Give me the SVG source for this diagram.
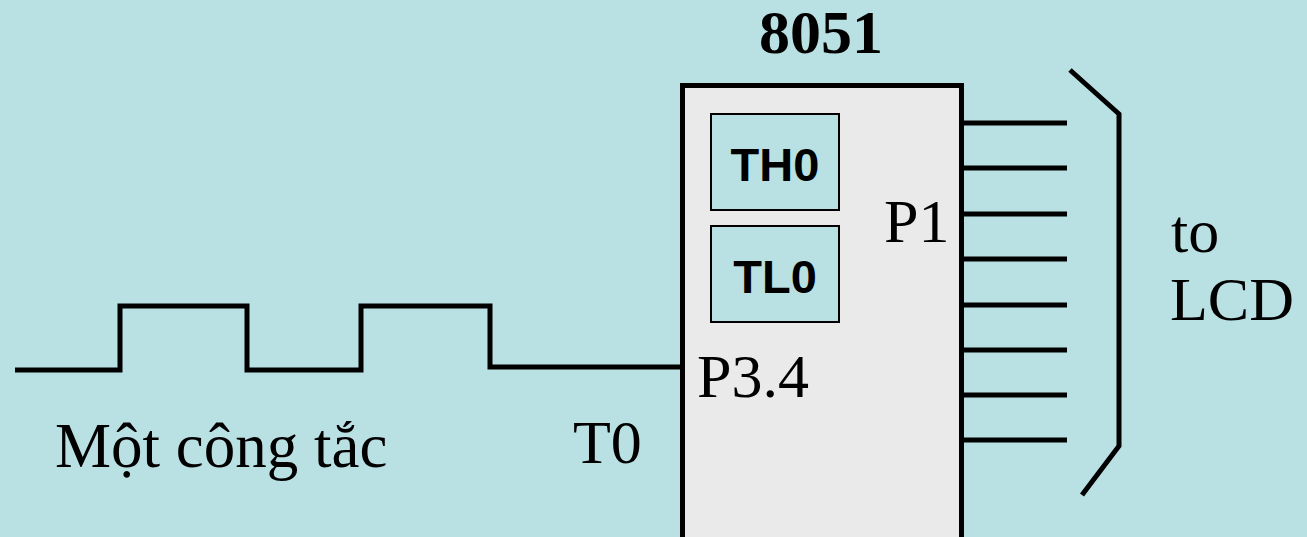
<svg xmlns="http://www.w3.org/2000/svg" width="1307" height="537" viewBox="0 0 1307 537">
<style>
.serif{font-family:"Liberation Serif","Times New Roman",serif;font-size:62px;fill:#000}
.bold{font-family:"Liberation Serif","Times New Roman",serif;font-size:62px;font-weight:bold;fill:#000}
.sans{font-family:"Liberation Sans",Arial,sans-serif;font-size:47px;font-weight:bold;fill:#000}
.wire{fill:none;stroke:#000;stroke-width:5}
.reg{fill:#B9E0E3;stroke:#000;stroke-width:2}
</style>
<rect x="0" y="0" width="1307" height="537" fill="#B9E0E3"/>
<g id="chip">
<rect x="682.5" y="85.5" width="279" height="470" fill="#EAEAEA" stroke="#000" stroke-width="5"/>
<text class="bold" x="821" y="53" text-anchor="middle">8051</text>
<text class="serif" x="884" y="242">P1</text>
<text class="serif" x="697" y="397">P3.4</text>
</g>
<g id="th0">
<rect class="reg" x="711" y="114" width="128" height="96"/>
<text class="sans" x="775" y="181" text-anchor="middle">TH0</text>
</g>
<g id="tl0">
<rect class="reg" x="711" y="226" width="128" height="96"/>
<text class="sans" x="775" y="293" text-anchor="middle">TL0</text>
</g>
<g id="switch">
<text class="serif" x="55" y="467" style="font-size:63px">Một công tắc</text>
<text class="serif" x="573" y="463">T0</text>
</g>
<g id="lcd">
<text class="serif" x="1171" y="252">to</text>
<text class="serif" x="1170" y="320">LCD</text>
</g>
<g id="connectors">
<path class="wire" d="M15 370 H120 V306 H247 V370 H361 V306 H490 V367 H682"/>
<path class="wire" d="M962 123 H1067 M962 168 H1067 M962 214 H1067 M962 259 H1067 M962 305 H1067 M962 350 H1067 M962 395 H1067 M962 440 H1067"/>
<path class="wire" d="M1070 70 L1119 114 V446 L1082 495"/>
</g>
</svg>
